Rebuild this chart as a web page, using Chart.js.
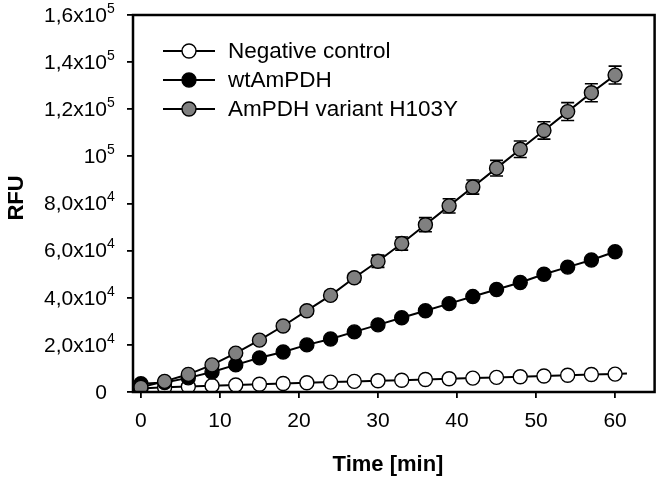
<!DOCTYPE html>
<html>
<head>
<meta charset="utf-8">
<script src="https://cdn.jsdelivr.net/npm/chart.js@4.4.1/dist/chart.umd.min.js"></script>
<style>
  html, body { margin: 0; padding: 0; background: #fff; }
</style>
</head>
<body>
<canvas id="chart" width="663" height="479"></canvas>
<script>
// ========== DATA ==========
const TIME = [0, 3, 6, 9, 12, 15, 18, 21, 24, 27, 30, 33, 36, 39, 42, 45, 48, 51, 54, 57, 60];
const NEG_CONTROL = [1500, 2000, 2300, 2700, 3000, 3300, 3600, 3900, 4200, 4500, 4800, 5000, 5300, 5600, 5900, 6200, 6500, 6800, 7100, 7400, 7600];
const WT_AMPDH = [3500, 4000, 6000, 8500, 11500, 14500, 17000, 20000, 22500, 25500, 28500, 31500, 34500, 37500, 40500, 43500, 46500, 50000, 53000, 56000, 59500];
const H103Y = [2000, 4500, 7500, 11500, 16500, 22000, 28000, 34500, 41000, 48500, 55500, 63000, 71000, 79000, 87000, 95000, 103000, 111000, 119000, 127000, 134500];
const H103Y_ERR = [300, 400, 500, 600, 800, 1000, 1200, 1400, 1600, 1800, 2600, 2800, 3000, 3000, 3000, 3300, 3500, 3700, 3800, 3800, 3800];
const NEG_FIT_X = [60, 61.5];
const NEG_FIT_Y = [7600, 7800];

const SERIES_NAMES = ['Negative control', 'wtAmPDH', 'AmPDH variant H103Y'];
const SERIES_FILL = ['#ffffff', '#000000', '#808080'];

const X_TICKS = [0, 10, 20, 30, 40, 50, 60];
const Y_TICKS = [0, 20000, 40000, 60000, 80000, 100000, 120000, 140000, 160000];
// [base, superscript]
const Y_LABELS = [['0', ''], ['2,0x10', '4'], ['4,0x10', '4'], ['6,0x10', '4'], ['8,0x10', '4'],
                  ['10', '5'], ['1,2x10', '5'], ['1,4x10', '5'], ['1,6x10', '5']];

const FONT = "'Liberation Sans', Arial, sans-serif";

// ========== HELPERS ==========
function toPoints(xs, ys) {
  return xs.map((x, i) => ({ x, y: ys[i] }));
}

function seriesDataset(label, ys, fill) {
  return {
    label,
    data: toPoints(TIME, ys),
    borderColor: '#000',
    borderWidth: 2,
    pointRadius: 7,
    pointBackgroundColor: fill,
    pointBorderColor: '#000',
    pointBorderWidth: 1.4,
    showLine: true,
    tension: 0,
  };
}

// ========== PLUGINS ==========
const errorBars = {
  id: 'errorBars',
  beforeDatasetDraw(chart, args) {
    if (args.index !== 0) return;
    const { ctx, scales: { x, y } } = chart;
    ctx.save();
    ctx.strokeStyle = '#000';
    ctx.lineWidth = 1.6;
    TIME.forEach((t, i) => {
      const px = x.getPixelForValue(t);
      const top = y.getPixelForValue(H103Y[i] + H103Y_ERR[i]);
      const bot = y.getPixelForValue(H103Y[i] - H103Y_ERR[i]);
      ctx.beginPath();
      ctx.moveTo(px, top); ctx.lineTo(px, bot);
      ctx.moveTo(px - 6.5, top); ctx.lineTo(px + 6.5, top);
      ctx.moveTo(px - 6.5, bot); ctx.lineTo(px + 6.5, bot);
      ctx.stroke();
    });
    ctx.restore();
  }
};

const decorations = {
  id: 'decorations',
  afterDraw(chart) {
    const { ctx, chartArea: a, scales: { x, y } } = chart;
    ctx.save();
    // frame
    ctx.strokeStyle = '#000';
    ctx.lineWidth = 2.5;
    ctx.strokeRect(a.left, a.top, a.right - a.left, a.bottom - a.top);

    ctx.fillStyle = '#000';
    // y tick labels with superscripts
    Y_TICKS.forEach((v, i) => {
      const py = y.getPixelForValue(v);
      const [base, sup] = Y_LABELS[i];
      ctx.font = `21px ${FONT}`;
      ctx.textAlign = 'right';
      ctx.textBaseline = 'middle';
      ctx.fillText(base, 107, py + 1);
      if (sup) {
        ctx.font = `14px ${FONT}`;
        ctx.textAlign = 'left';
        ctx.fillText(sup, 107, py - 6);
      }
    });
    // x tick labels
    ctx.font = `21px ${FONT}`;
    ctx.textAlign = 'center';
    ctx.textBaseline = 'middle';
    X_TICKS.forEach(v => ctx.fillText(String(v), x.getPixelForValue(v), 421));

    // axis titles
    ctx.font = `bold 22px ${FONT}`;
    ctx.fillText('Time [min]', 388, 465);
    ctx.save();
    ctx.translate(17, 198);
    ctx.rotate(-Math.PI / 2);
    ctx.fillText('RFU', 0, 0);
    ctx.restore();

    // legend
    const rows = [51, 80, 109];
    ctx.font = `22.5px ${FONT}`;
    ctx.textAlign = 'left';
    SERIES_NAMES.forEach((name, i) => {
      const ly = rows[i];
      ctx.strokeStyle = '#000';
      ctx.lineWidth = 2;
      ctx.beginPath();
      ctx.moveTo(163, ly); ctx.lineTo(215, ly);
      ctx.stroke();
      ctx.beginPath();
      ctx.arc(189, ly, 7, 0, Math.PI * 2);
      ctx.fillStyle = SERIES_FILL[i];
      ctx.fill();
      ctx.lineWidth = 1.4;
      ctx.stroke();
      ctx.fillStyle = '#000';
      ctx.fillText(name, 228, ly + 1);
    });
    ctx.restore();
  }
};

// ========== CHART ==========
new Chart(document.getElementById('chart'), {
  type: 'scatter',
  data: {
    datasets: [
      seriesDataset(SERIES_NAMES[2], H103Y, SERIES_FILL[2]),
      seriesDataset(SERIES_NAMES[1], WT_AMPDH, SERIES_FILL[1]),
      seriesDataset(SERIES_NAMES[0], NEG_CONTROL, SERIES_FILL[0]),
      {
        label: 'fit',
        data: toPoints(NEG_FIT_X, NEG_FIT_Y),
        borderColor: '#000',
        borderWidth: 2,
        pointRadius: 0,
        showLine: true,
      },
    ],
  },
  options: {
    responsive: false,
    animation: false,
    devicePixelRatio: 1,
    layout: { padding: { top: 15, right: 8, left: 0, bottom: 0 } },
    plugins: {
      legend: { display: false },
      tooltip: { enabled: false },
    },
    scales: {
      x: {
        type: 'linear',
        min: -1,
        max: 65,
        afterBuildTicks: s => { s.ticks = X_TICKS.map(v => ({ value: v })); },
        afterFit: s => { s.height = 87; },
        ticks: { display: false },
        border: { display: false },
        grid: { drawOnChartArea: false, drawTicks: true, tickLength: 6, tickColor: '#000', lineWidth: 1.8 },
      },
      y: {
        type: 'linear',
        min: 0,
        max: 160000,
        afterBuildTicks: s => { s.ticks = Y_TICKS.map(v => ({ value: v })); },
        afterFit: s => { s.width = 133; },
        ticks: { display: false },
        border: { display: false },
        grid: { drawOnChartArea: false, drawTicks: true, tickLength: 6, tickColor: '#000', lineWidth: 1.8 },
      },
    },
  },
  plugins: [errorBars, decorations],
});
</script>
</body>
</html>
